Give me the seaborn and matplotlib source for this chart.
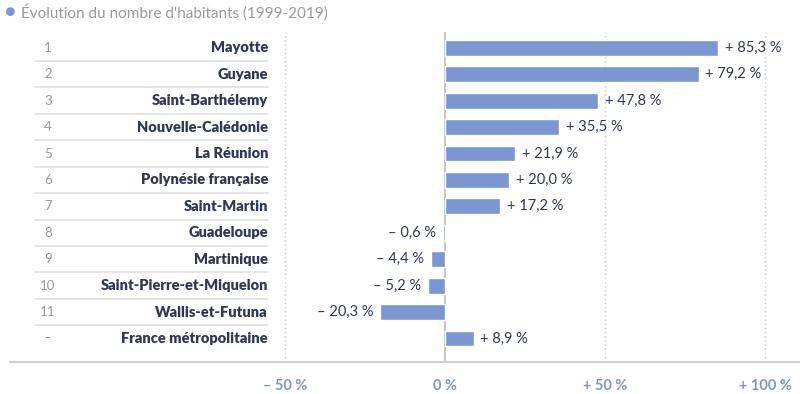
import matplotlib
matplotlib.use("Agg")
import matplotlib.pyplot as plt
import seaborn as sns
import pandas as pd

# Data
territoires = ["Mayotte", "Guyane", "Saint-Barthélemy", "Nouvelle-Calédonie", "La Réunion",
               "Polynésie française", "Saint-Martin", "Guadeloupe", "Martinique",
               "Saint-Pierre-et-Miquelon", "Wallis-et-Futuna", "France métropolitaine"]
rangs = ["1", "2", "3", "4", "5", "6", "7", "8", "9", "10", "11", "–"]
evolution = [85.3, 79.2, 47.8, 35.5, 21.9, 20.0, 17.2, -0.6, -4.4, -5.2, -20.3, 8.9]
ticks = [-50, 0, 50, 100]
tick_labels = ["– 50 %", "0 %", "+ 50 %", "+ 100 %"]
titre = "Évolution du nombre d'habitants (1999-2019)"

df = pd.DataFrame({"territoire": territoires, "evolution": evolution})

sns.set_style("white")
plt.rcParams["font.family"] = ["Lato", "DejaVu Sans"]

BLEU = "#7b96d0"
NAVY = "#2f3858"
GRIS = "#9a9a9a"

fig = plt.figure(figsize=(8, 3.94), dpi=100)
ax = fig.add_axes([0.0125, 0.0812, 0.9875, 0.8376])

sns.barplot(data=df, x="evolution", y="territoire", color=BLEU, width=0.6,
            saturation=1, ax=ax, zorder=3)

ax.set_xlim(-135.9, 110.9)
ax.set_ylim(11.89, -0.6)

# grid + zero line
for t in ticks:
    if t == 0:
        ax.axvline(0, color="#c8c8c8", lw=1.5, zorder=2)
    else:
        ax.axvline(t, color="#c8c8c8", lw=1, ls=(0, (1, 2)), zorder=1)

sns.despine(ax=ax, left=True, top=True, right=True)
ax.spines["bottom"].set_color("#cfcfcf")
ax.spines["bottom"].set_linewidth(1.5)

ax.set_xticks(ticks)
ax.set_xticklabels(tick_labels, color=BLEU, fontsize=10.5, fontweight="bold")
ax.tick_params(axis="x", length=0, pad=12)
ax.set_yticks([])
ax.set_xlabel("")
ax.set_ylabel("")

# row labels
tr = ax.get_yaxis_transform()
for i, (nom, rang) in enumerate(zip(territoires, rangs)):
    ax.text(0.3266, i, nom, transform=tr, ha="right", va="center",
            fontsize=10.5, fontweight="heavy", color=NAVY)
    ax.text(0.048, i, rang, transform=tr, ha="center", va="center",
            fontsize=9.5, color=GRIS)
    if i < len(territoires) - 1:
        ax.axhline(i + 0.5, xmin=0.0316, xmax=0.3266, color="#e2e2e2", lw=1.2)

# value labels
for i, v in enumerate(evolution):
    txt = ("+ " if v >= 0 else "– ") + f"{abs(v):.1f}".replace(".", ",") + " %"
    ax.annotate(txt, (v, i), xytext=(5 if v >= 0 else -5, 0), textcoords="offset points",
                ha="left" if v >= 0 else "right", va="center", fontsize=10.5, color=NAVY)

# title
fig.text(0.0125, 1 - 12 / 394, "●", color=BLEU, fontsize=13, ha="center", va="center")
fig.text(0.026, 1 - 12 / 394, titre, color=GRIS, fontsize=11, ha="left", va="center")

fig.savefig("out.png", dpi=100)
